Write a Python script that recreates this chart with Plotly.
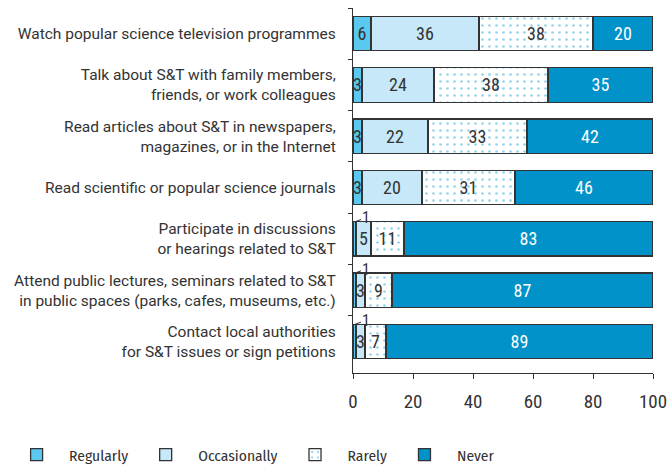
import plotly.graph_objects as go

categories = [
    "Watch popular science television programmes",
    "Talk about S&T with family members,<br>friends, or work colleagues",
    "Read articles about S&T in newspapers,<br>magazines, or in the Internet",
    "Read scientific or popular science journals",
    "Participate in discussions<br>or hearings related to S&T",
    "Attend public lectures, seminars related to S&T<br>in public spaces (parks, cafes, museums, etc.)",
    "Contact local authorities<br>for S&T issues or sign petitions",
]
regularly = [6, 3, 3, 3, 1, 1, 1]
occasionally = [36, 24, 22, 20, 5, 3, 3]
rarely = [38, 38, 33, 31, 11, 9, 7]
never = [20, 35, 42, 46, 83, 87, 89]
x_ticks = [0, 20, 40, 60, 80, 100]

LABEL_FONT = "Roboto, sans-serif"
LEGEND_FONT = "Fira Sans Condensed, Roboto Condensed, DejaVu Sans Condensed, Roboto, sans-serif"
NUM_FONT = "Liberation Sans Narrow, Roboto Condensed, Roboto, sans-serif"
OUTLINE = dict(color="#333333", width=1.3)

series = [
    ("Regularly", regularly, dict(color="#5BC8F0", line=OUTLINE), "#333333"),
    ("Occasionally", occasionally, dict(color="#C6E8F8", line=OUTLINE), "#333333"),
    ("Rarely", rarely, dict(color="white", line=OUTLINE,
                            pattern=dict(shape=".", fgcolor="#2AA8DC", bgcolor="white",
                                         size=7, solidity=0.12)), "#333333"),
    ("Never", never, dict(color="#0092C8", line=OUTLINE), "white"),
]

fig = go.Figure()
for name, vals, marker, tcolor in series:
    fig.add_trace(go.Bar(
        name=name, y=categories, x=vals, orientation="h", marker=marker,
        text=[str(v) if v > 1 else "" for v in vals],
        textposition="inside", insidetextanchor="middle", textangle=0,
        constraintext="none",
        insidetextfont=dict(family=NUM_FONT, size=18, color=tcolor),
        width=0.67, hoverinfo="skip",
    ))

# small leader labels for 1% values
for cat, v in zip(categories, regularly):
    if v <= 1:
        fig.add_annotation(
            x=v / 2, y=cat, xref="x", yref="y", text=str(v), showarrow=True,
            arrowhead=0, arrowwidth=1, arrowcolor="#333333", ax=11, ay=-4,
            yshift=17, standoff=0, borderpad=0,
            font=dict(family=NUM_FONT, size=16, color="#333333"),
        )

fig.update_layout(
    barmode="stack",
    width=671, height=465,
    margin=dict(l=353, r=18, t=8, b=92, autoexpand=False),
    plot_bgcolor="white", paper_bgcolor="white",
    font=dict(family=LABEL_FONT, size=15.5, color="#333333"),
    showlegend=True,
    legend=dict(orientation="h", x=-1.163, xanchor="left", xref="paper",
                y=-0.225, yanchor="middle", yref="paper", traceorder="normal",
                font=dict(family=LEGEND_FONT, size=15.5, color="#333333"),
                itemwidth=55, tracegroupgap=0),
)
fig.update_xaxes(
    range=[0, 100], tickvals=x_ticks, showgrid=False, zeroline=False,
    showline=True, linecolor="#333333", linewidth=1.3, automargin=False,
    ticks="outside", ticklen=5, tickcolor="#333333", ticklabelstandoff=6,
    tickfont=dict(family=NUM_FONT, size=19, color="#333333"),
)
fig.update_yaxes(
    autorange="reversed", showgrid=False, showline=True, linecolor="#333333",
    linewidth=1.3, ticks="outside", tickson="boundaries", ticklen=4,
    tickcolor="#333333", ticklabelstandoff=13, automargin=False,
    tickfont=dict(family=LABEL_FONT, size=15.5, color="#333333"),
)

fig.write_html("out.html", config={"displayModeBar": False},
               post_script="document.body.style.margin='0';")
